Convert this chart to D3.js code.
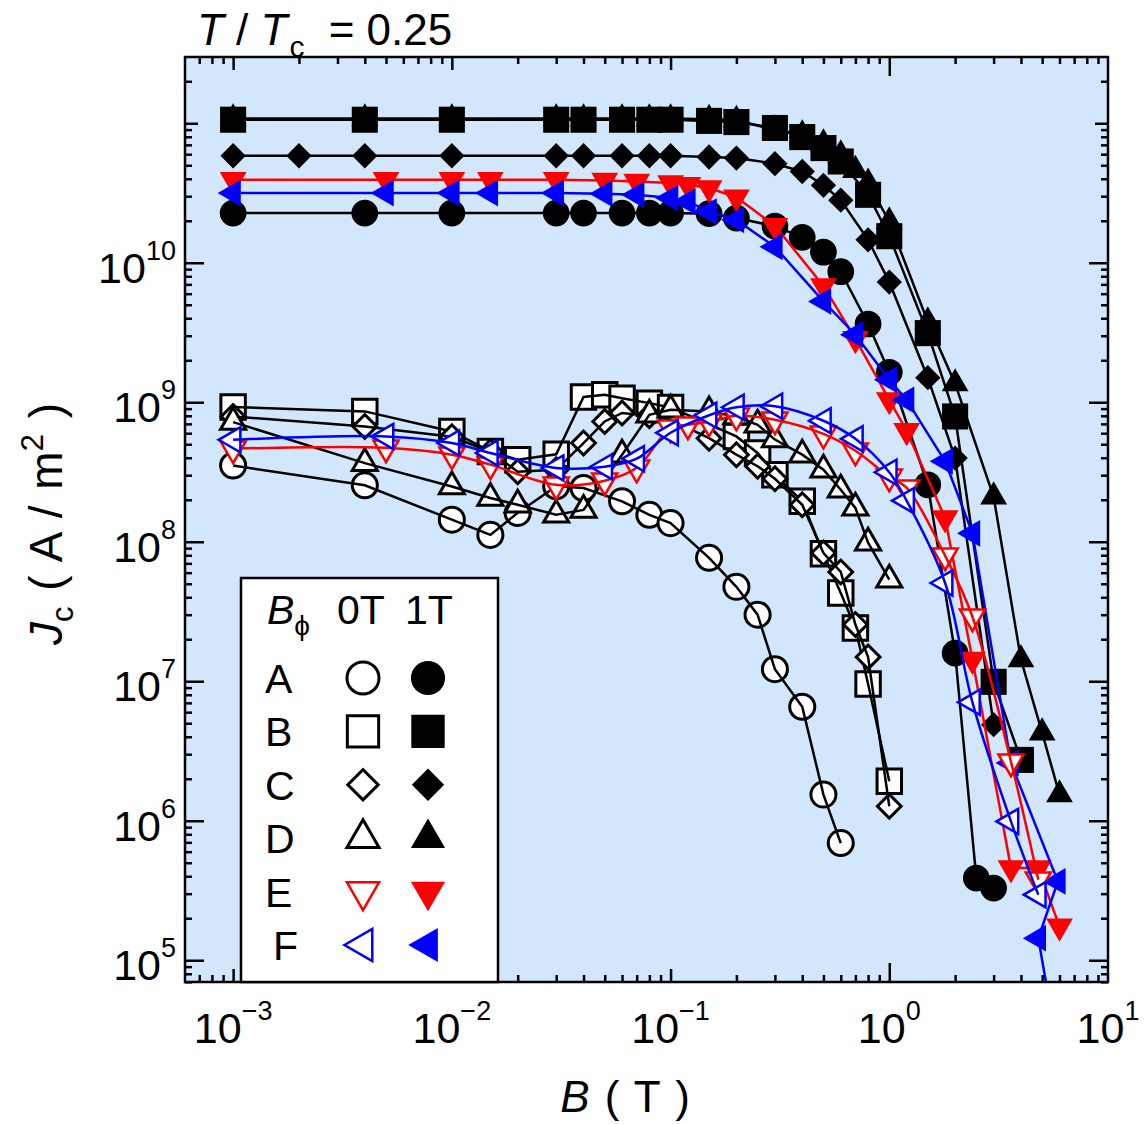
<!DOCTYPE html>
<html>
<head>
<meta charset="utf-8">
<script src="https://cdn.jsdelivr.net/npm/d3@7"></script>
<style>
  body { margin: 0; background: #fff; }
  text { font-family: "Liberation Sans", Arial, Helvetica, sans-serif; fill: #000; }
</style>
</head>
<body>
<div id="chart"></div>
<script>
// ---- data: [B (T), Jc (A/m^2)] ----
var A_1T = [[0.001,2.27e10],[0.004,2.27e10],[0.01,2.27e10],[0.03,2.27e10],[0.04,2.27e10],[0.06,2.27e10],[0.08,2.27e10],[0.1,2.27e10],[0.15,2.25e10],[0.2,2.09e10],[0.3,1.83e10],[0.4,1.52e10],[0.5,1.19e10],[0.6,8.63e9],[0.8,3.64e9],[1.0,1.64e9],[1.5,2.56e8],[2.0,1.59e7],[2.5,3.88e5],[3.0,3.29e5]];
var B_1T = [[0.001,1.06e11],[0.004,1.06e11],[0.01,1.06e11],[0.03,1.06e11],[0.04,1.06e11],[0.06,1.06e11],[0.08,1.06e11],[0.1,1.06e11],[0.15,1.04e11],[0.2,1.02e11],[0.3,9.25e10],[0.4,7.96e10],[0.5,6.64e10],[0.6,5.32e10],[0.8,3.07e10],[1.0,1.55e10],[1.5,3.13e9],[2.0,7.91e8],[3.0,9.9e6],[4.0,2.73e6]];
var C_1T = [[0.001,5.85e10],[0.002,5.85e10],[0.004,5.85e10],[0.01,5.85e10],[0.03,5.85e10],[0.04,5.85e10],[0.06,5.85e10],[0.08,5.85e10],[0.1,5.85e10],[0.15,5.73e10],[0.2,5.63e10],[0.3,5.13e10],[0.4,4.51e10],[0.5,3.59e10],[0.6,2.81e10],[0.8,1.46e10],[1.0,7.27e9],[1.5,1.50e9],[2.0,3.98e8],[3.0,4.88e6]];
var D_1T = [[0.001,1.08e11],[0.004,1.08e11],[0.01,1.08e11],[0.03,1.08e11],[0.04,1.08e11],[0.06,1.08e11],[0.08,1.08e11],[0.1,1.08e11],[0.15,1.07e11],[0.2,1.05e11],[0.3,8.98e10],[0.4,8.27e10],[0.5,7.13e10],[0.6,5.94e10],[0.7,4.6e10],[0.8,3.74e10],[1.0,1.97e10],[1.5,3.78e9],[2.0,1.36e9],[3.0,2.10e8],[4.0,1.43e7],[5.0,4.27e6],[6.0,1.54e6]];
var E_1T = [[0.001,3.93e10],[0.005,3.93e10],[0.01,3.93e10],[0.015,3.93e10],[0.03,3.93e10],[0.05,3.89e10],[0.07,3.83e10],[0.1,3.73e10],[0.12,3.62e10],[0.15,3.43e10],[0.2,2.95e10],[0.3,1.84e10],[0.5,6.83e9],[0.7,2.85e9],[1.0,1.04e9],[1.2,6.25e8],[1.8,1.48e8],[2.4,1.43e7],[3.6,4.58e5],[4.8,4.58e5],[6.0,1.75e5]];
var F_1T = [[0.001,3.16e10],[0.005,3.16e10],[0.01,3.16e10],[0.015,3.16e10],[0.03,3.16e10],[0.05,3.13e10],[0.07,3.07e10],[0.1,2.91e10],[0.12,2.75e10],[0.15,2.33e10],[0.2,2.03e10],[0.3,1.30e10],[0.5,5.28e9],[0.7,3.05e9],[1.0,1.45e9],[1.2,1.04e9],[1.8,3.77e8],[2.4,1.15e8],[3.6,2.59e6],[5.9,3.67e5],[4.8,1.44e5],[5.4,5e4]];

var A_0T = [[0.001,3.52e8],[0.004,2.54e8],[0.01,1.44e8],[0.015,1.12e8],[0.02,1.61e8],[0.03,2.5e8],[0.04,2.43e8],[0.06,1.95e8],[0.08,1.56e8],[0.1,1.36e8],[0.15,7.67e7],[0.2,4.75e7],[0.25,3.00e7],[0.3,1.22e7],[0.4,6.56e6],[0.5,1.54e6],[0.6,6.92e5]];
var B_0T = [[0.001,9.25e8],[0.004,8.60e8],[0.01,6.18e8],[0.015,4.44e8],[0.02,3.87e8],[0.03,4.24e8],[0.04,1.09e9],[0.05,1.13e9],[0.06,1.07e9],[0.08,9.86e8],[0.1,9.18e8],[0.2,5.69e8],[0.25,4.33e8],[0.3,3.02e8],[0.4,1.95e8],[0.5,8.20e7],[0.6,4.29e7],[0.7,2.41e7],[0.8,9.57e6],[1.0,1.92e6]];
var C_0T = [[0.001,7.91e8],[0.004,6.71e8],[0.01,5.66e8],[0.015,4.42e8],[0.02,3.18e8],[0.03,3.28e8],[0.04,5.10e8],[0.05,7.28e8],[0.06,8.38e8],[0.08,8.00e8],[0.1,7.50e8],[0.15,5.53e8],[0.2,4.21e8],[0.25,3.48e8],[0.3,2.83e8],[0.4,1.84e8],[0.5,8.30e7],[0.6,6.07e7],[0.7,2.55e7],[0.8,1.49e7],[1.0,1.27e6]];
var D_0T = [[0.001,7.21e8],[0.004,3.66e8],[0.01,2.49e8],[0.015,2.06e8],[0.02,1.84e8],[0.03,1.56e8],[0.04,1.69e8],[0.06,4.2e8],[0.08,8.13e8],[0.1,8.84e8],[0.15,8.59e8],[0.2,7.9e8],[0.25,6.90e8],[0.3,5.4e8],[0.4,4.21e8],[0.5,3.28e8],[0.6,2.36e8],[0.7,1.75e8],[0.8,9.84e7],[1.0,5.35e7]];
var E_0T = [[0.001,4.65e8],[0.005,4.72e8],[0.01,4.21e8],[0.015,3.57e8],[0.03,2.56e8],[0.05,2.74e8],[0.07,3.39e8],[0.1,6.56e8],[0.12,6.90e8],[0.15,7.24e8],[0.2,8.00e8],[0.3,7.50e8],[0.5,5.94e8],[0.7,4.49e8],[1.0,2.92e8],[1.2,2.44e8],[1.8,7.94e7],[2.4,2.90e7],[3.6,2.65e6],[4.8,3.78e5]];
var F_0T = [[0.001,5.38e8],[0.005,5.69e8],[0.01,5.10e8],[0.015,4.33e8],[0.03,3.38e8],[0.05,3.45e8],[0.07,3.94e8],[0.1,6.04e8],[0.15,8.07e8],[0.2,9.21e8],[0.3,9.36e8],[0.5,7.37e8],[0.7,5.47e8],[1.0,3.15e8],[1.2,1.97e8],[1.8,5.06e7],[2.4,7.06e6],[3.6,9.89e5],[4.8,2.95e5]];

var sampleNames = ["A", "B", "C", "D", "E", "F"];
var fieldLabels = ["0T", "1T"];
var xTickExp = [-3, -2, -1, 0, 1];
var yTickExp = [5, 6, 7, 8, 9, 10];

// ---- layout ----
var W = 1145, H = 1124;
var plot = {left: 185, top: 57, right: 1108, bottom: 982};
var bg = "#d2e7fb";

var x = d3.scaleLog().domain([Math.pow(10, -3.22), 10]).range([plot.left, plot.right]);
var y = d3.scaleLog().domain([Math.pow(10, 4.844), Math.pow(10, 11.475)]).range([plot.bottom, plot.top]);

var svg = d3.select("#chart").append("svg")
    .attr("width", W)
    .attr("height", H);

svg.append("rect")
    .attr("x", plot.left).attr("y", plot.top)
    .attr("width", plot.right - plot.left)
    .attr("height", plot.bottom - plot.top)
    .attr("fill", bg);

svg.append("clipPath").attr("id", "clip")
  .append("rect")
    .attr("x", plot.left).attr("y", plot.top)
    .attr("width", plot.right - plot.left)
    .attr("height", plot.bottom - plot.top);

// ---- ticks (inside, on all four sides) ----
function minors(lo, hi, dom) {
    var out = [];
    for (var e = lo; e <= hi; e++)
        for (var k = 2; k <= 9; k++) {
            var v = k * Math.pow(10, e);
            if (v >= dom[0] && v <= dom[1]) out.push(v);
        }
    return out;
}
var xMinor = minors(-4, 0, x.domain());
var yMinor = minors(4, 11, y.domain());

function ticks(axis, tx, ty, values, len) {
    var g = svg.append("g")
        .attr("transform", "translate(" + tx + "," + ty + ")")
        .call(axis.tickValues(values).tickSizeInner(-len).tickSizeOuter(0).tickFormat(""));
    g.select(".domain").remove();
    g.selectAll("line").attr("stroke", "#000").attr("stroke-width", 2.5);
}
ticks(d3.axisBottom(x), 0, plot.bottom, xMinor, 7);
ticks(d3.axisBottom(x), 0, plot.bottom, [1e-3, 1e-2, 1e-1], 13);
ticks(d3.axisBottom(x), 0, plot.bottom, [1], 19);
ticks(d3.axisTop(x), 0, plot.top, xMinor, 7);
ticks(d3.axisTop(x), 0, plot.top, [1e-3, 1e-2, 1e-1], 13);
ticks(d3.axisTop(x), 0, plot.top, [1], 19);
ticks(d3.axisLeft(y), plot.left, 0, yMinor, 7);
ticks(d3.axisLeft(y), plot.left, 0, [1e11], 13);
ticks(d3.axisLeft(y), plot.left, 0, yTickExp.map(function(e) { return Math.pow(10, e); }), 19);
ticks(d3.axisRight(y), plot.right, 0, yMinor, 7);
ticks(d3.axisRight(y), plot.right, 0, [1e11], 13);
ticks(d3.axisRight(y), plot.right, 0, yTickExp.map(function(e) { return Math.pow(10, e); }), 19);

// ---- markers ----
var symbols = {
    circle:  [d3.symbolCircle, 560, 0],
    square:  [d3.symbolSquare, 680, 0],
    diamond: [d3.symbolSquare, 320, 45],
    up:      [d3.symbolTriangle, 310, 0],
    down:    [d3.symbolTriangle, 310, 180],
    left:    [d3.symbolTriangle, 310, -90]
};
function marker(g, sym, cx, cy, filled, color, k) {
    var s = symbols[sym];
    var size = s[1] * k * k * (filled ? 1 : 0.88);
    g.append("path")
        .attr("d", d3.symbol().type(s[0]).size(size)())
        .attr("transform", "translate(" + cx + "," + cy + ") rotate(" + s[2] + ")")
        .attr("fill", filled ? color : "#fff")
        .attr("stroke", filled ? "none" : color)
        .attr("stroke-width", color === "#000" ? 3 : 2.5);
}

var syms = ["circle", "square", "diamond", "up", "down", "left"];
var colors = ["#000", "#000", "#000", "#000", "#ff0000", "#0000ff"];
var filledSets = [A_1T, B_1T, C_1T, D_1T, E_1T, F_1T];
var openSets = [A_0T, B_0T, C_0T, D_0T, E_0T, F_0T];

var data = svg.append("g").attr("clip-path", "url(#clip)");
var straight = d3.line().x(function(d) { return x(d[0]); }).y(function(d) { return y(d[1]); });
var smooth = d3.line().x(function(d) { return x(d[0]); }).y(function(d) { return y(d[1]); })
    .curve(d3.curveCatmullRom.alpha(0.5));

function drawSeries(pts, i, filled) {
    var g = data.append("g");
    pts.forEach(function(p) { marker(g, syms[i], x(p[0]), y(p[1]), filled, colors[i], 1); });
    g.append("path")
        .datum(pts)
        .attr("d", (!filled && i >= 4) ? smooth : straight)
        .attr("fill", "none")
        .attr("stroke", colors[i])
        .attr("stroke-width", 2.5);
}
filledSets.forEach(function(pts, i) { drawSeries(pts, i, true); });
openSets.forEach(function(pts, i) { drawSeries(pts, i, false); });

// ---- frame ----
svg.append("rect")
    .attr("x", plot.left).attr("y", plot.top)
    .attr("width", plot.right - plot.left)
    .attr("height", plot.bottom - plot.top)
    .attr("fill", "none")
    .attr("stroke", "#000")
    .attr("stroke-width", 2.5);

// ---- tick labels ----
function powLabel(px, py, e, anchor) {
    var t = svg.append("text")
        .attr("x", px).attr("y", py)
        .attr("text-anchor", anchor)
        .style("font-size", "43px");
    t.append("tspan").text("10");
    t.append("tspan").attr("dy", -23).style("font-size", "27px")
        .text(e < 0 ? "\u2212" + (-e) : String(e));
}
xTickExp.forEach(function(e) { powLabel(x(Math.pow(10, e)), 1043, e, "middle"); });
yTickExp.forEach(function(e) { powLabel(176, y(Math.pow(10, e)) + 20, e, "end"); });

// ---- axis titles ----
var xt = svg.append("text")
    .attr("x", 625).attr("y", 1112)
    .attr("text-anchor", "middle")
    .style("font-size", "44px")
    .style("word-spacing", "3px");
xt.append("tspan").style("font-style", "italic").text("B");
xt.append("tspan").text(" ( T )");

var yt = svg.append("text")
    .attr("transform", "translate(62,524) rotate(-90)")
    .attr("text-anchor", "middle")
    .style("font-size", "46px")
    .style("word-spacing", "3px");
yt.append("tspan").style("font-style", "italic").text("J");
yt.append("tspan").attr("dy", 11).style("font-size", "31px").text("c");
yt.append("tspan").attr("dy", -11).text(" ( A / m");
yt.append("tspan").attr("dy", -19).style("font-size", "31px").text("2");
yt.append("tspan").attr("dy", 19).text(" )");

var title = svg.append("text")
    .attr("x", 197).attr("y", 45)
    .style("font-size", "44px");
title.append("tspan").style("font-style", "italic").text("T");
title.append("tspan").text(" / ");
title.append("tspan").style("font-style", "italic").text("T");
title.append("tspan").attr("dy", 12).attr("dx", 2).style("font-size", "30px").text("c");
title.append("tspan").attr("dy", -12).attr("dx", 12).text(" = 0.25");

// ---- legend ----
var leg = svg.append("g");
leg.append("rect")
    .attr("x", 241).attr("y", 578)
    .attr("width", 257).attr("height", plot.bottom - 578)
    .attr("fill", "#fff")
    .attr("stroke", "#000")
    .attr("stroke-width", 2.5);

var head = leg.append("text").attr("x", 267).attr("y", 624).style("font-size", "41px");
head.append("tspan").style("font-style", "italic").text("B");
head.append("tspan").attr("dy", 11).style("font-size", "28px").text("\u03d5");
leg.append("text").attr("x", 337).attr("y", 624).style("font-size", "41px").text(fieldLabels[0]);
leg.append("text").attr("x", 405).attr("y", 624).style("font-size", "41px").text(fieldLabels[1]);

sampleNames.forEach(function(name, i) {
    var cy = 678 + i * 53.4;
    leg.append("text")
        .attr("x", name === "F" ? 273 : 265)
        .attr("y", cy + 15)
        .style("font-size", "41px")
        .text(name);
    marker(leg, syms[i], 363, cy, false, colors[i], 1.28);
    marker(leg, syms[i], 428, cy, true, colors[i], 1.28);
});
</script>
</body>
</html>
